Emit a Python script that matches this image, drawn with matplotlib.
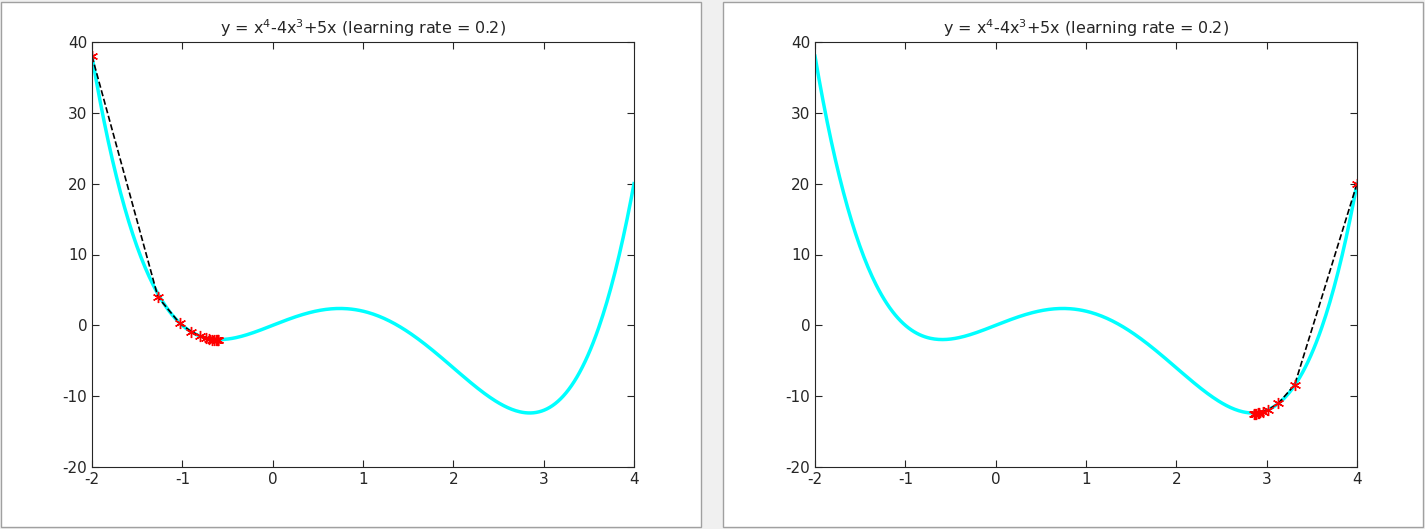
import numpy as np
import matplotlib.pyplot as plt
from matplotlib.patches import Rectangle

plt.rcParams['axes.unicode_minus'] = False

# curve from the title: y = x^4 - 4x^3 + 5x
x_curve = np.linspace(-2, 4, 400)
y_curve = x_curve**4 - 4 * x_curve**3 + 5 * x_curve

# descent steps
left_x = [-2.0, -1.27, -1.03, -0.9, -0.8, -0.74, -0.7, -0.67, -0.65, -0.63, -0.62, -0.61, -0.6]
left_y = [38.0, 4.0, 0.3, -0.9, -1.5, -1.8, -1.9, -2.0, -2.05, -2.08, -2.09, -2.1, -2.1]
right_x = [4.0, 3.31, 3.13, 3.02, 2.96, 2.92, 2.9, 2.88, 2.87, 2.86]
right_y = [20.0, -8.4, -11.0, -11.9, -12.2, -12.35, -12.4, -12.45, -12.47, -12.5]

title = r'y = x$^4$-4x$^3$+5x (learning rate = 0.2)'

fig = plt.figure(figsize=(14.25, 5.29), dpi=100)
fig.patch.set_facecolor('#f0f0f0')
for x0 in (0.0, 722 / 1425):
    fig.add_artist(Rectangle((x0 + 0.001, 0.004), 700 / 1425, 0.992, transform=fig.transFigure,
                             facecolor='white', edgecolor='#a0a0a0', lw=1, zorder=0))

for left, px, py in ((92 / 1425, left_x, left_y), (815 / 1425, right_x, right_y)):
    ax = fig.add_axes([left, 62 / 529, 542 / 1425, 425 / 529])
    ax.plot(x_curve, y_curve, color='cyan', lw=2.5)
    ax.plot(px, py, 'k--', lw=1.2)
    ax.plot(px, py, linestyle='none', marker=(6, 2, 0), color='red', ms=8, markeredgewidth=1)
    ax.set_xlim(-2, 4)
    ax.set_ylim(-20, 40)
    ax.set_xticks(range(-2, 5))
    ax.set_yticks(range(-20, 41, 10))
    ax.tick_params(direction='in', top=True, right=True, labelsize=11, length=5,
                   colors='#262626')
    ax.set_title(title, fontsize=11.5, color='#262626')
    for s in ax.spines.values():
        s.set_linewidth(0.8)
        s.set_color('#262626')

fig.savefig('out.png', dpi=100, facecolor=fig.get_facecolor())
